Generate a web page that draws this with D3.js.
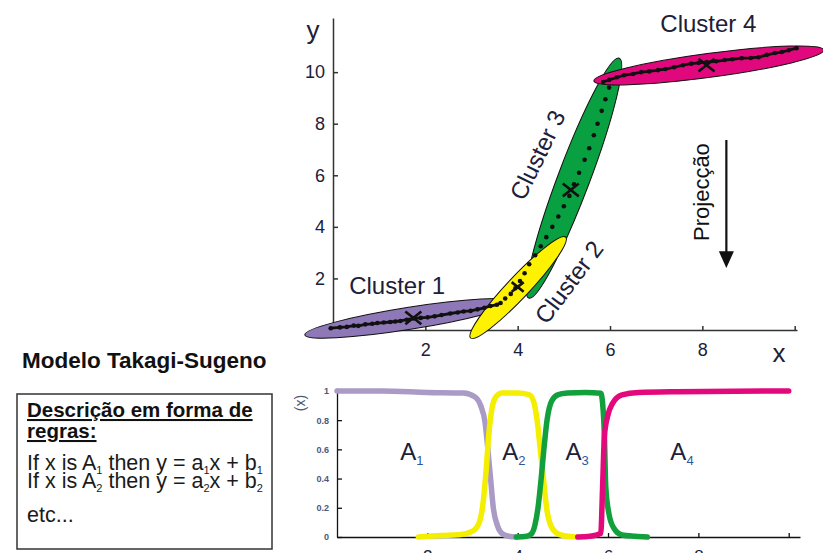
<!DOCTYPE html>
<html>
<head>
<meta charset="utf-8">
<script src="https://cdn.jsdelivr.net/npm/d3@7"></script>
<style>
  body { margin: 0; background: #fff; }
  svg { display: block; font-family: "Liberation Sans", Arial, sans-serif; }
  .top-axis .domain, .top-axis line { stroke: #333; stroke-width: 1.5; }
  .top-axis text { font-size: 18px; fill: #1c2038; }
  .bot-axis .domain, .bot-axis line { stroke: #111; stroke-width: 1.3; }
  .bot-axis.y text { font-size: 9px; font-weight: bold; fill: #4d5878; }
  .bot-axis.x text { font-size: 17px; fill: #1c2038; }
</style>
</head>
<body>
<svg id="chart" width="823" height="553"></svg>
<script>
// ---- data ----
const clusterNames = ["Cluster 1", "Cluster 2", "Cluster 3", "Cluster 4"];
// ellipse end points (x, y) of each cluster
const clusterEnds = [
  [[-0.61, -0.19], [3.89, 1.09]],
  [[2.98, -0.31], [5.04, 3.6]],
  [[4.24, 1.24], [6.2, 10.54]],
  [[5.65, 9.66], [10.63, 10.86]]
];
// cluster centres (the X marks)
const clusterCenters = [[1.74, 0.47], [4.0, 1.67], [5.15, 5.43], [8.09, 10.27]];

// data samples: dense segments (clusters 1 and 4) and sparse dots in between
const samplesLow = [
  [-0.05, 0.07], [0.15, 0.1], [0.3, 0.12], [0.45, 0.17], [0.55, 0.16], [0.7, 0.22],
  [0.85, 0.24], [0.96, 0.27], [1.1, 0.29], [1.24, 0.31], [1.35, 0.33], [1.46, 0.35],
  [1.6, 0.4], [1.74, 0.45], [1.9, 0.47], [2.05, 0.49], [2.2, 0.53], [2.35, 0.58],
  [2.54, 0.64], [2.7, 0.68], [2.83, 0.72], [2.98, 0.74], [3.13, 0.8], [3.28, 0.86],
  [3.41, 0.93], [3.55, 0.98], [3.63, 1.05]
];
const samplesMid = [
  [3.73, 1.22], [3.85, 1.4], [3.95, 1.62], [4.05, 1.9], [4.15, 2.2], [4.25, 2.55],
  [4.38, 2.9], [4.5, 3.25], [4.62, 3.6], [4.75, 4.0], [4.88, 4.4], [5.0, 4.8],
  [5.12, 5.2], [5.22, 5.65], [5.33, 6.1], [5.45, 6.6], [5.55, 7.05], [5.65, 7.55],
  [5.73, 8.0], [5.82, 8.5], [5.9, 8.95], [5.98, 9.4]
];
const samplesHigh = [
  [5.85, 9.62], [5.98, 9.7], [6.15, 9.8], [6.3, 9.88], [6.5, 9.93], [6.67, 10.0],
  [6.85, 10.03], [7.04, 10.08], [7.2, 10.12], [7.39, 10.19], [7.58, 10.27], [7.76, 10.33],
  [7.92, 10.36], [8.09, 10.39], [8.3, 10.42], [8.48, 10.47], [8.65, 10.5], [8.85, 10.54],
  [9.05, 10.55], [9.22, 10.58], [9.4, 10.67], [9.57, 10.74], [9.72, 10.78], [9.87, 10.85],
  [10.04, 10.93]
];

// membership functions A1..A4 (x, mu)
const memberNames = ["A1", "A2", "A3", "A4"];
const memberA1 = [
  [0, 1], [1, 1], [2, 0.99], [2.8, 0.985], [3.05, 0.96], [3.18, 0.9], [3.28, 0.78],
  [3.34, 0.6], [3.4, 0.4], [3.46, 0.2], [3.55, 0.08], [3.67, 0.02], [3.8, 0.005], [3.97, 0]
];
const memberA2 = [
  [1.8, 0], [2.3, 0.01], [2.7, 0.015], [3.0, 0.04], [3.15, 0.1], [3.24, 0.25], [3.3, 0.45],
  [3.36, 0.7], [3.43, 0.88], [3.52, 0.96], [3.65, 0.985], [4.0, 0.985], [4.25, 0.975],
  [4.35, 0.93], [4.43, 0.8], [4.5, 0.6], [4.57, 0.4], [4.64, 0.2], [4.73, 0.08],
  [4.85, 0.03], [5.0, 0.01], [5.3, 0]
];
const memberA3 = [
  [3.97, 0], [4.2, 0.005], [4.3, 0.02], [4.38, 0.08], [4.45, 0.2], [4.52, 0.4], [4.58, 0.6],
  [4.65, 0.8], [4.75, 0.93], [4.9, 0.975], [5.1, 0.985], [5.5, 0.99], [5.84, 0.984],
  [5.88, 0.915], [5.92, 0.69], [5.95, 0.345], [6.02, 0.16], [6.13, 0.06], [6.31, 0.014],
  [6.6, 0.005], [6.87, 0]
];
const memberA4 = [
  [5.33, 0], [5.6, 0.005], [5.84, 0.025], [5.88, 0.345], [5.92, 0.69], [5.99, 0.825],
  [6.1, 0.915], [6.31, 0.973], [6.68, 0.99], [7.5, 0.995], [10, 1]
];

const topXTicks = [2, 4, 6, 8, 10];
const topYTicks = [2, 4, 6, 8, 10];
const botXTicks = [2, 4, 6, 8, 10];
const botYTicks = [0, 0.2, 0.4, 0.6, 0.8, 1];

// ---- styles ----
const clusterFill = ["#8e78b8", "#fff200", "#08a040", "#e0087c"];
const clusterHalfWidth = [11, 11, 16, 12];
const memberColor = ["#a99bc6", "#f4ee00", "#12a03c", "#e3087c"];

const svg = d3.select("#chart");

// ---- top chart: clusters in the x-y plane ----
const xTop = d3.scaleLinear().domain([0, 10.05]).range([333, 797]);
const yTop = d3.scaleLinear().domain([0, 12.1]).range([330, 18]);

svg.append("g")
  .attr("class", "top-axis")
  .attr("transform", "translate(0,330)")
  .call(d3.axisBottom(xTop).tickValues(topXTicks).tickSizeInner(-4).tickSizeOuter(0)
    .tickPadding(13).tickFormat((d) => (d === 10 ? "" : d)));

svg.append("g")
  .attr("class", "top-axis")
  .attr("transform", "translate(333,0)")
  .call(d3.axisLeft(yTop).tickValues(topYTicks).tickSizeInner(-5).tickSizeOuter(0)
    .tickPadding(8));

svg.append("text").attr("x", 313).attr("y", 39).attr("text-anchor", "middle")
  .attr("font-size", 26).attr("fill", "#1c2038").text("y");
svg.append("text").attr("x", 779).attr("y", 362).attr("text-anchor", "middle")
  .attr("font-size", 26).attr("fill", "#1c2038").text("x");

// ellipses, green drawn first so the others overlap it
const drawOrder = [2, 0, 1, 3];
const ellipseG = svg.append("g");
drawOrder.forEach((i) => {
  const [a, b] = clusterEnds[i];
  const x1 = xTop(a[0]), y1 = yTop(a[1]), x2 = xTop(b[0]), y2 = yTop(b[1]);
  const angle = (Math.atan2(y2 - y1, x2 - x1) * 180) / Math.PI;
  ellipseG.append("ellipse")
    .attr("transform", `translate(${(x1 + x2) / 2},${(y1 + y2) / 2}) rotate(${angle})`)
    .attr("rx", Math.hypot(x2 - x1, y2 - y1) / 2)
    .attr("ry", clusterHalfWidth[i])
    .attr("fill", clusterFill[i])
    .attr("stroke", "#111")
    .attr("stroke-width", 1);
});

// data samples
const sampleLine = d3.line().x((d) => xTop(d[0])).y((d) => yTop(d[1]));
[samplesLow, samplesHigh].forEach((s) => {
  svg.append("path").datum(s).attr("d", sampleLine)
    .attr("fill", "none").attr("stroke", "#111").attr("stroke-width", 2.8)
    .attr("stroke-linejoin", "round");
});
svg.append("g").selectAll("circle")
  .data(samplesLow.concat(samplesMid, samplesHigh))
  .join("circle")
  .attr("cx", (d) => xTop(d[0]))
  .attr("cy", (d) => yTop(d[1]))
  .attr("r", 2.3)
  .attr("fill", "#111");

// centre marks
const markSize = [8, 6, 8, 8];
svg.append("g").selectAll("path")
  .data(clusterCenters)
  .join("path")
  .attr("d", (d, i) => {
    const cx = xTop(d[0]), cy = yTop(d[1]), s = markSize[i], t = s * 0.8;
    return `M${cx - s},${cy - t}L${cx + s},${cy + t}M${cx - s},${cy + t}L${cx + s},${cy - t}`;
  })
  .attr("stroke", "#111")
  .attr("stroke-width", 2.6);

// cluster labels
const clusterLabelPos = [[1.39, 1.71, 0], [5.11, 1.86, -53], [4.43, 6.79, -64], [8.13, 11.89, 0]];
svg.append("g").selectAll("text")
  .data(clusterNames)
  .join("text")
  .attr("transform", (d, i) => {
    const [lx, ly, r] = clusterLabelPos[i];
    return `translate(${xTop(lx)},${yTop(ly)}) rotate(${r})`;
  })
  .attr("text-anchor", "middle")
  .attr("dominant-baseline", "central")
  .attr("font-size", 24)
  .attr("fill", "#1c2038")
  .text((d) => d);

// projection annotation
svg.append("text")
  .attr("transform", `translate(${xTop(8.15)},${yTop(5.35)}) rotate(-90)`)
  .attr("text-anchor", "middle")
  .attr("font-size", 22)
  .attr("fill", "#111")
  .text("Projecção");
const ax = xTop(8.52);
svg.append("line").attr("x1", ax).attr("x2", ax).attr("y1", yTop(7.37)).attr("y2", yTop(2.95))
  .attr("stroke", "#111").attr("stroke-width", 2.2);
svg.append("path")
  .attr("d", `M${ax - 7.5},${yTop(3.05)}L${ax + 7.5},${yTop(3.05)}L${ax},${yTop(2.4)}Z`)
  .attr("fill", "#111");

// ---- bottom chart: membership functions ----
const xBot = d3.scaleLinear().domain([0, 10.25]).range([337, 800]);
const yBot = d3.scaleLinear().domain([0, 1.02]).range([537, 388]);

svg.append("g")
  .attr("class", "bot-axis x")
  .attr("transform", "translate(0,537)")
  .call(d3.axisBottom(xBot).tickValues(botXTicks).tickSizeInner(-4).tickSizeOuter(0)
    .tickPadding(13).tickFormat((d) => (d === 10 ? "" : d)));
svg.append("text").attr("x", 797).attr("y", 566).attr("text-anchor", "middle")
  .attr("font-size", 22).attr("fill", "#1c2038").text("x");

svg.append("g")
  .attr("class", "bot-axis y")
  .attr("transform", "translate(337,0)")
  .call(d3.axisLeft(yBot).tickValues(botYTicks).tickSizeInner(-5).tickSizeOuter(0)
    .tickPadding(8).tickFormat((d) => (d === 0 || d === 1 ? d : d.toFixed(1))));

svg.append("text")
  .attr("transform", "translate(300,403) rotate(-90)")
  .attr("text-anchor", "middle")
  .attr("dominant-baseline", "central")
  .attr("font-size", 14)
  .attr("fill", "#4d5878")
  .text("(x)");

const memberLine = d3.line()
  .x((d) => xBot(d[0]))
  .y((d) => yBot(d[1]))
  .curve(d3.curveMonotoneX);
[memberA1, memberA2, memberA3, memberA4].forEach((m, i) => {
  svg.append("path").datum(m).attr("d", memberLine)
    .attr("fill", "none").attr("stroke", memberColor[i]).attr("stroke-width", 5.5)
    .attr("stroke-linejoin", "round").attr("stroke-linecap", "round");
});

// A_i labels
const memberLabelX = [1.4, 3.66, 5.06, 7.38];
memberNames.forEach((name, i) => {
  const t = svg.append("text")
    .attr("x", xBot(memberLabelX[i]))
    .attr("y", yBot(0.53))
    .attr("font-size", 24)
    .attr("fill", "#1c2038");
  t.append("tspan").text(name[0]);
  t.append("tspan").attr("dy", 5).attr("font-size", 13).attr("fill", "#2a5a9c").text(name.slice(1));
});

// ---- left side: title and rule box ----
svg.append("text").attr("x", 22).attr("y", 368)
  .attr("font-size", 22.5).attr("font-weight", "bold").attr("fill", "#111")
  .text("Modelo Takagi-Sugeno");

svg.append("rect").attr("x", 17).attr("y", 394).attr("width", 255).attr("height", 155)
  .attr("fill", "none").attr("stroke", "#333").attr("stroke-width", 1.5);

svg.append("text").attr("x", 27).attr("y", 417)
  .attr("font-size", 20.5).attr("font-weight", "bold").attr("fill", "#111")
  .attr("text-decoration", "underline")
  .text("Descrição em forma de");
svg.append("text").attr("x", 27).attr("y", 438)
  .attr("font-size", 20.5).attr("font-weight", "bold").attr("fill", "#111")
  .attr("text-decoration", "underline")
  .text("regras:");

function ruleLine(y, k) {
  const parts = [["If x is A"], [k, 1], [" then y = a"], [k, 1], ["x + b"], [k, 1]];
  const t = svg.append("text").attr("x", 27).attr("y", y)
    .attr("font-size", 21.5).attr("fill", "#1a1a1a");
  let shifted = false;
  parts.forEach(([s, sub]) => {
    const ts = t.append("tspan").text(s);
    if (sub && !shifted) { ts.attr("dy", 4).attr("font-size", 11); shifted = true; }
    else if (!sub && shifted) { ts.attr("dy", -4); shifted = false; }
  });
}
ruleLine(470, "1");
ruleLine(488, "2");

svg.append("text").attr("x", 27).attr("y", 522)
  .attr("font-size", 21.5).attr("fill", "#1a1a1a").text("etc...");
</script>
</body>
</html>
